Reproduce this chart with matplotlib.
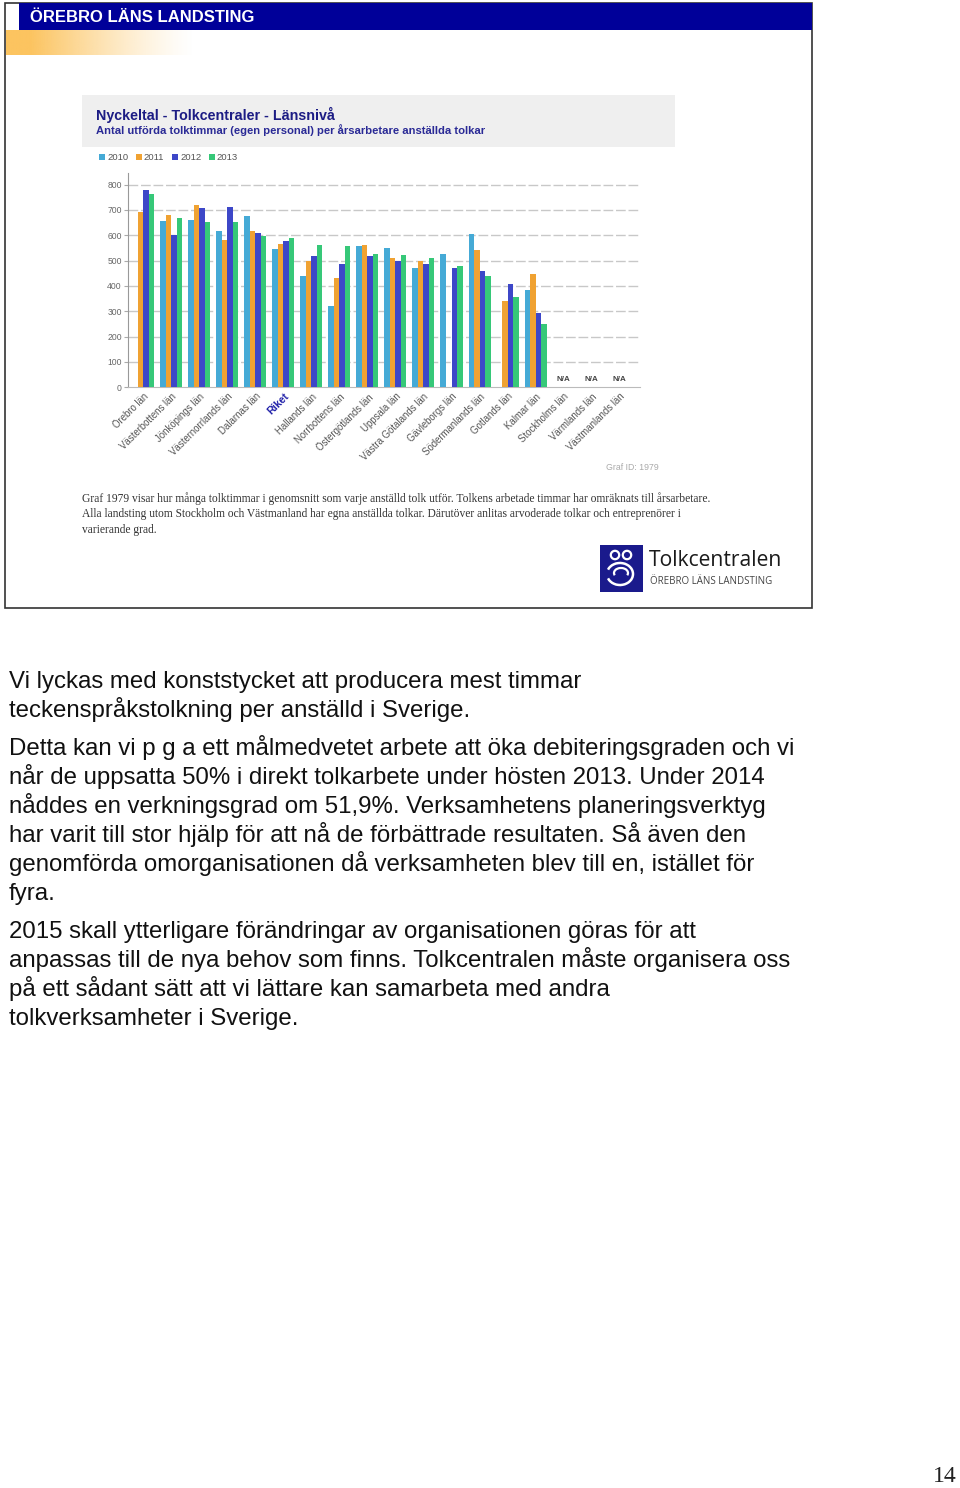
#!/usr/bin/env python3

import numpy as np
import matplotlib

matplotlib.use("Agg")
import matplotlib.pyplot as plt
from matplotlib.patches import Rectangle, Circle, Arc


W, H = 960, 1488

regions = [
    "Örebro län", "Västerbottens län", "Jönköpings län", "Västernorrlands län",
    "Dalarnas län", "Riket", "Hallands län", "Norrbottens län",
    "Östergötlands län", "Uppsala län", "Västra Götalands län", "Gävleborgs län",
    "Södermanlands län", "Gotlands län", "Kalmar län", "Stockholms län",
    "Värmlands län", "Västmanlands län",
]
nan = np.nan
v2010 = [nan, 657, 661, 619, 677, 547, 440, 321, 556, 551, 470, 528, 606, nan, 385, 3, 3, 3]
v2011 = [692, 681, 721, 582, 619, 565, 497, 432, 561, 510, 499, nan, 543, 341, 447, 3, 3, 3]
v2012 = [777, 600, 706, 710, 610, 577, 519, 485, 519, 497, 485, 470, 461, 408, 292, 3, 3, 3]
v2013 = [763, 667, 653, 653, 598, 589, 561, 556, 528, 523, 510, 480, 440, 356, 250, 3, 3, 3]
years = ["2010", "2011", "2012", "2013"]
series = [v2010, v2011, v2012, v2013]
colors = ["#45aad6", "#f0a232", "#3d47c8", "#36c878"]
na_groups = ["Stockholms län", "Värmlands län", "Västmanlands län"]

body_lines = [
    "Vi lyckas med konststycket att producera mest timmar",
    "teckenspråkstolkning per anställd i Sverige.",
    "Detta kan vi p g a ett målmedvetet arbete att öka debiteringsgraden och vi",
    "når de uppsatta 50% i direkt tolkarbete under hösten 2013. Under 2014",
    "nåddes en verkningsgrad om 51,9%. Verksamhetens planeringsverktyg",
    "har varit till stor hjälp för att nå de förbättrade resultaten. Så även den",
    "genomförda omorganisationen då verksamheten blev till en, istället för",
    "fyra.",
    "2015 skall ytterligare förändringar av organisationen göras för att",
    "anpassas till de nya behov som finns. Tolkcentralen måste organisera oss",
    "på ett sådant sätt att vi lättare kan samarbeta med andra",
    "tolkverksamheter i Sverige.",
]
body_baselines = [688, 717, 755, 784, 813, 842, 871, 900, 938, 967, 996, 1025]

caption_lines = [
    "Graf 1979 visar hur många tolktimmar i genomsnitt som varje anställd tolk utför. "
    "Tolkens arbetade timmar har omräknats till årsarbetare.",
    "Alla landsting utom Stockholm och Västmanland har egna anställda tolkar. "
    "Därutöver anlitas arvoderade tolkar och entreprenörer i",
    "varierande grad.",
]


def main() -> None:
    plt.rcParams["font.family"] = ["Liberation Sans", "DejaVu Sans"]
    fig = plt.figure(figsize=(W / 100, H / 100), dpi=100)

    # page overlay in pixel coordinates
    page = fig.add_axes([0, 0, 1, 1])
    page.axis("off")

    # slide frame and header
    page.add_patch(Rectangle((5, 3), 807, 605, fill=False, edgecolor="#333333", linewidth=1.2))
    page.add_patch(Rectangle((19, 3), 793, 27, facecolor="#000099", edgecolor="none"))
    grad = np.zeros((1, 256, 4))
    grad[..., 0] = 252 / 255
    grad[..., 1] = 196 / 255
    grad[..., 2] = 96 / 255
    t = np.linspace(0, 1, 256)
    grad[0, :, 3] = np.clip(1.15 - 1.15 * t, 0, 1) ** 1.3
    page.imshow(grad, extent=(6, 195, 55, 30), aspect="auto", zorder=1)
    page.set_xlim(0, W)
    page.set_ylim(H, 0)
    page.text(30, 17, "ÖREBRO LÄNS LANDSTING", color="white", fontsize=12, fontweight="bold",
              va="center", ha="left")

    # chart title box
    page.add_patch(Rectangle((82, 95), 593, 52, facecolor="#efefef", edgecolor="none"))
    page.text(96, 115, "Nyckeltal - Tolkcentraler - Länsnivå", color="#1c1c84", fontsize=10.3,
              fontweight="bold", va="center")
    page.text(96, 130, "Antal utförda tolktimmar (egen personal) per årsarbetare anställda tolkar",
              color="#2a2a96", fontsize=8.1, fontweight="bold", va="center")

    # legend
    lx = 99
    for year, color in zip(years, colors):
        page.add_patch(Rectangle((lx, 154), 6, 6, facecolor=color, edgecolor="none"))
        page.text(lx + 8, 157.5, year, fontsize=6.8, color="#555555", va="center")
        lx += 36.5

    page.text(606, 468, "Graf ID: 1979", fontsize=6.3, color="#aaaaaa", va="center")

    for i, line in enumerate(caption_lines):
        page.text(82, 499 + i * 15.5, line, fontsize=8.3, color="#333333",
                  family="Liberation Serif", va="center")

    # logo
    page.add_patch(Rectangle((600, 545), 43, 47, facecolor="#1a1a8c", edgecolor="none"))
    page.add_patch(Circle((615, 555), 4.2, fill=False, edgecolor="white", linewidth=1.6))
    page.add_patch(Circle((627, 555), 4.2, fill=False, edgecolor="white", linewidth=1.6))
    page.add_patch(Arc((620, 574), 26, 22, theta1=200, theta2=160, edgecolor="white", linewidth=1.8))
    page.add_patch(Arc((621, 573), 14, 10, theta1=160, theta2=20, edgecolor="white", linewidth=1.6))
    page.text(649, 561, "Tolkcentralen", fontsize=15.2, color="#1a1a1a", family="Open Sans", va="center")
    page.text(650, 582, "ÖREBRO LÄNS LANDSTING", fontsize=7.0, color="#444444", family="Open Sans",
              va="center")

    # body text
    for line, base in zip(body_lines, body_baselines):
        page.text(9, base, line, fontsize=17.3, color="#111111", va="baseline")
    page.text(957, 1482, "14", fontsize=17, color="#222222", family="Liberation Serif",
              ha="right", va="baseline")

    # bar chart
    left, right, top, bottom = 128, 640, 173, 387.3
    ax = fig.add_axes([left / W, 1 - bottom / H, (right - left) / W, (bottom - top) / H])
    ax.patch.set_alpha(0)
    x = np.arange(len(regions))
    bw = 5.5 / 28
    for k, (vals, color) in enumerate(zip(series, colors)):
        ax.bar(x + (k - 1.5) * bw, vals, width=bw, color=color, linewidth=0, zorder=3)

    ax.set_xlim(-0.55, len(regions) - 1 + 0.73)
    ax.set_ylim(0, 846)
    ax.set_yticks(range(0, 801, 100))
    ax.tick_params(axis="y", labelsize=6.2, labelcolor="#666666", color="#aaaaaa", length=3, pad=1.5)
    for yv in range(100, 801, 100):
        ax.axhline(yv, color="#c8c8c8", linewidth=1.0, linestyle=(0, (7, 2)), zorder=1)

    ax.set_xticks(x)
    ax.set_xticklabels(regions, rotation=45, ha="right", va="top", rotation_mode="anchor")
    ax.tick_params(axis="x", length=0, pad=3, labelsize=6.9, labelcolor="#555555")
    for lab in ax.get_xticklabels():
        if lab.get_text() == "Riket":
            lab.set_color("#1f1fa8")
            lab.set_fontweight("bold")
            lab.set_fontsize(7.6)

    for name in na_groups:
        i = regions.index(name)
        ax.text(i, 32, "N/A", ha="center", va="center", fontsize=5.8, fontweight="bold", color="#444444")

    for side in ["top", "right"]:
        ax.spines[side].set_visible(False)
    ax.spines["left"].set_color("#999999")
    ax.spines["bottom"].set_color("#bbbbbb")
    ax.spines["left"].set_linewidth(0.8)
    ax.spines["bottom"].set_linewidth(0.8)

    fig.savefig("out.png", dpi=100)
    plt.close(fig)


if __name__ == "__main__":
    main()
